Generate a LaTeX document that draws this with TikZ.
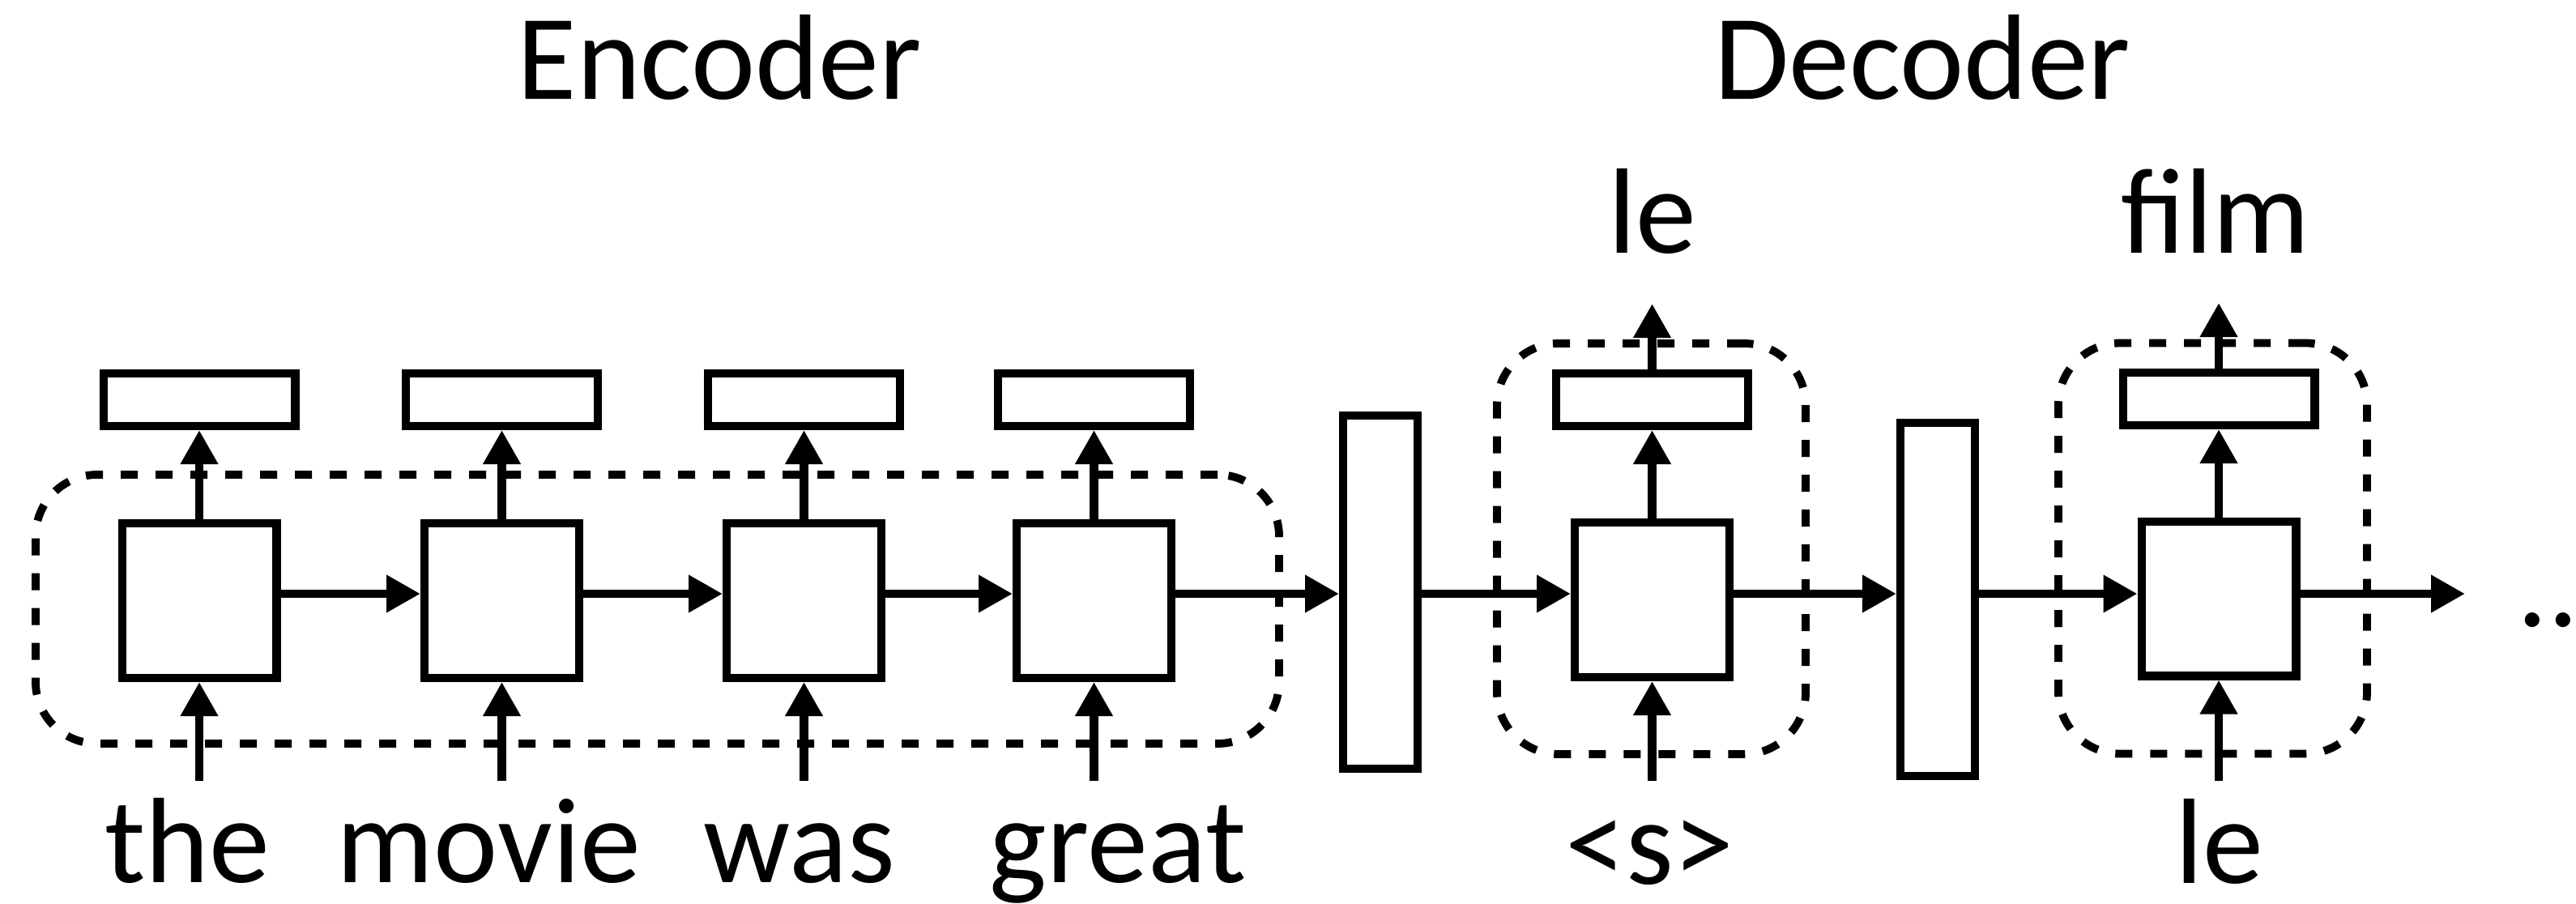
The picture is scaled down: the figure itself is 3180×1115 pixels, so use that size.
\documentclass[tikz,border=0pt]{standalone}
\usepackage{fontspec}
\setmainfont{Carlito}
\usetikzlibrary{arrows.meta}
\tikzset{
  cell/.style={draw, fill=white, line width=2.6pt, inner sep=0pt, minimum width=47.65pt, minimum height=47.65pt},
  outbox/.style={draw, fill=white, line width=2.6pt, inner sep=0pt, minimum width=59.15pt, minimum height=16.15pt},
  ctxbox/.style={draw, fill=white, line width=2.6pt, inner sep=0pt, minimum width=22.9pt, minimum height=108.9pt},
  group/.style={draw, line width=2.45pt, dash pattern=on 5.25pt off 5.5pt, rounded corners=19pt, inner sep=0pt},
  arr/.style={line width=2.55pt, -{Triangle[length=10.5pt,width=11pt]}},
  word/.style={anchor=base, inner sep=0pt, font=\fontsize{37.5}{45}\selectfont},
}
\begin{document}
\begin{tikzpicture}[x=0.25pt,y=-0.25pt]
\useasboundingbox (0,0) rectangle (3180,1115);
\clip (0,0) rectangle (3180,1115);

% dashed groupings
\node[group, minimum width=383.75pt, minimum height=83pt] (enc) at (811.5,752) {};
\node[group, minimum width=95.25pt, minimum height=126.75pt] (dg1) at (2038.5,677.5) {};
\node[group, minimum width=95.25pt, minimum height=126.75pt] (dg2) at (2731.5,677) {};

% encoder cells and their outputs
\node[cell] (e1) at (246,741.5) {};
\node[cell] (e2) at (619.5,741.5) {};
\node[cell] (e3) at (992.5,741.5) {};
\node[cell] (e4) at (1350.5,741.5) {};
\node[outbox] (h1) at (246,493.5) {};
\node[outbox] (h2) at (619.5,493.5) {};
\node[outbox] (h3) at (992.5,493.5) {};
\node[outbox] (h4) at (1350.5,493.5) {};

% context vectors
\node[ctxbox] (t1) at (1704,731) {};
\node[ctxbox] (t2) at (2392,740) {};

% decoder cells and their outputs
\node[cell] (d1) at (2039.5,740.5) {};
\node[cell] (d2) at (2739,739) {};
\node[outbox] (g1) at (2039.5,493.5) {};
\node[outbox] (g2) at (2739,492.5) {};

% free ends of connectors
\coordinate (row) at (0,733);
\coordinate (x1) at (246,964);
\coordinate (x2) at (619.5,964);
\coordinate (x3) at (992.5,964);
\coordinate (x4) at (1350.5,964);
\coordinate (x5) at (2039.5,964);
\coordinate (x6) at (2739,964);
\coordinate (y1) at (2039.5,375);
\coordinate (y2) at (2739,374);
\coordinate (nx) at (3043,733);

% recurrent connections
\draw[arr] (e1.east |- row) -- (e2.west |- row);
\draw[arr] (e2.east |- row) -- (e3.west |- row);
\draw[arr] (e3.east |- row) -- (e4.west |- row);
\draw[arr] (e4.east |- row) -- (t1.west |- row);
\draw[arr] (t1.east |- row) -- (d1.west |- row);
\draw[arr] (d1.east |- row) -- (t2.west |- row);
\draw[arr] (t2.east |- row) -- (d2.west |- row);
\draw[arr] (d2.east |- row) -- (nx);

% inputs
\draw[arr] (x1) -- (e1.south);
\draw[arr] (x2) -- (e2.south);
\draw[arr] (x3) -- (e3.south);
\draw[arr] (x4) -- (e4.south);
\draw[arr] (x5) -- (d1.south);
\draw[arr] (x6) -- (d2.south);

% outputs
\draw[arr] (e1.north) -- (h1.south);
\draw[arr] (e2.north) -- (h2.south);
\draw[arr] (e3.north) -- (h3.south);
\draw[arr] (e4.north) -- (h4.south);
\draw[arr] (d1.north) -- (g1.south);
\draw[arr] (d2.north) -- (g2.south);
\draw[arr] (g1.north) -- (y1);
\draw[arr] (g2.north) -- (y2);

% labels
\node[word] (lenc) at (888.5,122) {Encoder};
\node[word] (ldec) at (2373,122) {Decoder};
\node[word] (o1) at (2040,312) {le};
\node[word] (o2) at (2735,312) {film};
\node[word] (w1) at (231.5,1089) {the};
\node[word] (w2) at (603.5,1089) {movie};
\node[word] (w3) at (987,1089) {was};
\node[word] (w4) at (1380,1089) {great};
\node[word] (w5) at (2036.5,1091) {<s>};
\node[word] (w6) at (2740,1090) {le};
\node[word, anchor=base west] (more) at (3107,773) {...};
\end{tikzpicture}
\end{document}
